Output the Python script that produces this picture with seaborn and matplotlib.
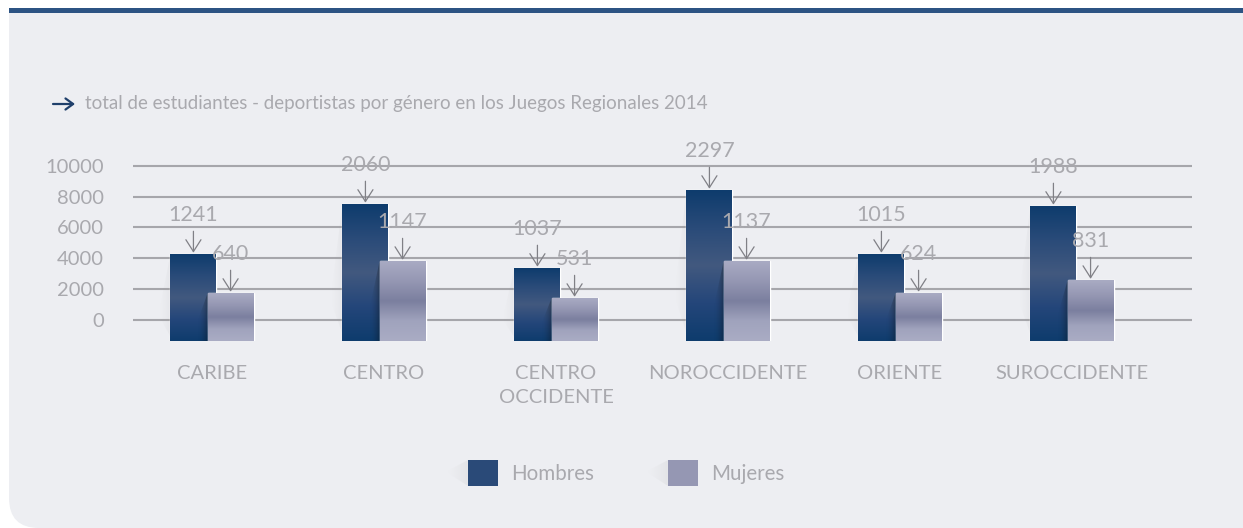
import numpy as np
import matplotlib.pyplot as plt
import seaborn as sns
from matplotlib.colors import LinearSegmentedColormap
from matplotlib.patches import FancyBboxPatch, Rectangle, Polygon, Patch

# datos
regiones = ['CARIBE', 'CENTRO', 'CENTRO\nOCCIDENTE', 'NOROCCIDENTE', 'ORIENTE', 'SUROCCIDENTE']
hombres = [1241, 2060, 1037, 2297, 1015, 1988]
mujeres = [640, 1147, 531, 1137, 624, 831]
# altura de las barras tal como aparecen sobre la escala 0-10000 del gráfico
alto_hombres = [4260, 7520, 3350, 8430, 4260, 7390]
alto_mujeres = [1720, 3800, 1390, 3800, 1720, 2560]
base = -1400
yticks = [0, 2000, 4000, 6000, 8000, 10000]

sns.set_style('white')
plt.rcParams['font.family'] = ['Lato', 'DejaVu Sans']

txt_col = '#A9A9AE'
W, H = 1243, 528
fig = plt.figure(figsize=(W / 100, H / 100), dpi=100, facecolor='white')

# fondo del panel
bg = fig.add_axes([0, 0, 1, 1], zorder=-1)
bg.set_xlim(0, W)
bg.set_ylim(H, 0)
bg.axis('off')
bg.add_patch(FancyBboxPatch((9, -40), 1300, H + 40, boxstyle='round,pad=0,rounding_size=30',
                            fc='#EDEEF2', ec='none'))
bg.add_patch(Rectangle((0, 0), 1300, 8, fc='white', ec='none'))
bg.add_patch(Rectangle((9, 8), 1300, 5, fc='#2C5383', ec='none'))

# titulo
bg.annotate('', xy=(75, 104), xytext=(53, 104),
            arrowprops=dict(arrowstyle='->,head_length=0.55,head_width=0.4', color='#1F3F6B',
                            lw=1.6, shrinkA=0, shrinkB=0))
fig.text(85 / W, 1 - 103 / H, 'total de estudiantes - deportistas por género en los Juegos Regionales 2014',
         color=txt_col, fontsize=13.5, va='center', ha='left')

ax = fig.add_axes([133 / W, (H - 341) / H, (1192 - 133) / W, (341 - 150) / H])
ax.set_facecolor('none')

pos = np.arange(len(regiones))
off = 0.108
bw = 0.267
sns.barplot(x=pos - off, y=np.array(alto_hombres) - base, native_scale=True, bottom=base,
            width=bw, color='#2A4A78', errorbar=None, zorder=2, ax=ax)
sns.barplot(x=pos + off, y=np.array(alto_mujeres) - base, native_scale=True, bottom=base,
            width=bw, color='#9597B3', errorbar=None, zorder=4, ax=ax)

cm_h = LinearSegmentedColormap.from_list('h', ['#0E3C6D', '#2A4B79', '#42597F', '#24467A', '#0E3C6D'])
cm_m = LinearSegmentedColormap.from_list('m', ['#A9ABC3', '#9597B3', '#7B7F9F', '#A0A3BD', '#AAACC4'])
grad = np.linspace(0, 1, 200).reshape(-1, 1)

bars = list(ax.patches)
for i, p in enumerate(bars):
    x0, y0, w, h = p.get_x(), p.get_y(), p.get_width(), p.get_height()
    cm = cm_h if i < len(regiones) else cm_m
    z = p.get_zorder() + 0.1
    ax.imshow(grad, extent=[x0, x0 + w, y0, y0 + h], aspect='auto', cmap=cm, zorder=z,
              interpolation='bicubic')
    if i < len(regiones):
        # sombra clara a la izquierda
        tri = Polygon([(x0, y0 + h), (x0 - 0.07, y0 + 0.3 * h), (x0, y0 + 0.05 * h)], closed=True,
                      fc='none', ec='none', transform=ax.transData)
        ax.add_patch(tri)
        sh = np.zeros((1, 50, 4))
        sh[..., :3] = 0.6
        sh[..., 3] = np.linspace(0, 0.22, 50) ** 1.5
        im = ax.imshow(sh, extent=[x0 - 0.07, x0, y0, y0 + h], aspect='auto', zorder=1.5)
        im.set_clip_path(tri)
    else:
        # sombra oscura sobre la barra de hombres
        tri = Polygon([(x0, y0 + h), (x0 - 0.1, y0), (x0, y0)], closed=True,
                      fc='none', ec='none', transform=ax.transData)
        ax.add_patch(tri)
        sh = np.zeros((1, 50, 4))
        sh[..., :3] = 0.05
        sh[..., 3] = np.linspace(0, 0.6, 50) ** 2
        im = ax.imshow(sh, extent=[x0 - 0.06, x0, y0, y0 + h], aspect='auto', zorder=3)
        im.set_clip_path(tri)

# etiquetas de valor
for xs, tops, vals in [(pos - off, alto_hombres, hombres), (pos + off, alto_mujeres, mujeres)]:
    for x, t, v in zip(xs, tops, vals):
        ax.annotate(str(v), xy=(x, t), xytext=(0, 28), textcoords='offset points',
                    ha='center', va='center', fontsize=15.5, color=txt_col,
                    arrowprops=dict(arrowstyle='->,head_length=0.55,head_width=0.35', color='#808086',
                                    lw=0.9, shrinkA=2, shrinkB=1),
                    annotation_clip=False, zorder=6)

ax.set_xlim((133 - 212) / 172, (1192 - 212) / 172)
ax.set_ylim(base, 11044)
ax.set_yticks(yticks)
ax.set_yticklabels([str(t) for t in yticks])
ax.set_xticks(pos)
ax.set_xticklabels(regiones, linespacing=1.5)
ax.tick_params(axis='y', length=0, pad=21, labelsize=14.5, labelcolor=txt_col)
ax.tick_params(axis='x', length=0, pad=17, labelsize=14.5, labelcolor=txt_col)
ax.yaxis.grid(True, color='#A6A6AB', lw=1.5)
ax.xaxis.grid(False)
ax.set_axisbelow(True)
sns.despine(ax=ax, left=True, bottom=True)
ax.set_xlabel('')
ax.set_ylabel('')

handles = [Patch(fc='#2A4A78', ec='none', label='Hombres'),
           Patch(fc='#9597B3', ec='none', label='Mujeres')]
leg = fig.legend(handles=handles, loc='center', bbox_to_anchor=(626 / W, 1 - 473 / H), ncol=2,
                 frameon=False, handlelength=1.45, handleheight=1.55,
                 handletextpad=0.65, columnspacing=3.6, labelcolor=txt_col,
                 prop={'size': 14.8})

fig.canvas.draw()
inv = bg.transData.inverted()
for hp, cm in zip(leg.get_patches(), [cm_h, cm_m]):
    bb = hp.get_window_extent()
    (xa, ya), (xb, yb) = inv.transform([[bb.x0, bb.y0], [bb.x1, bb.y1]])
    bg.imshow(grad, extent=[xa, xb, ya, yb], aspect='auto', cmap=cm, zorder=5,
              interpolation='bicubic')
    tri = Polygon([(xa, yb), (xa - 22, ya - 0.55 * (ya - yb)), (xa, ya)], closed=True, fc='none', ec='none')
    bg.add_patch(tri)
    sh = np.zeros((1, 50, 4))
    sh[..., :3] = 0.6
    sh[..., 3] = np.linspace(0, 0.25, 50) ** 1.5
    im = bg.imshow(sh, extent=[xa - 22, xa, ya, yb], aspect='auto', zorder=4)
    im.set_clip_path(tri)
bg.set_xlim(0, W)
bg.set_ylim(H, 0)

fig.savefig('out.png', dpi=100, facecolor='white')
